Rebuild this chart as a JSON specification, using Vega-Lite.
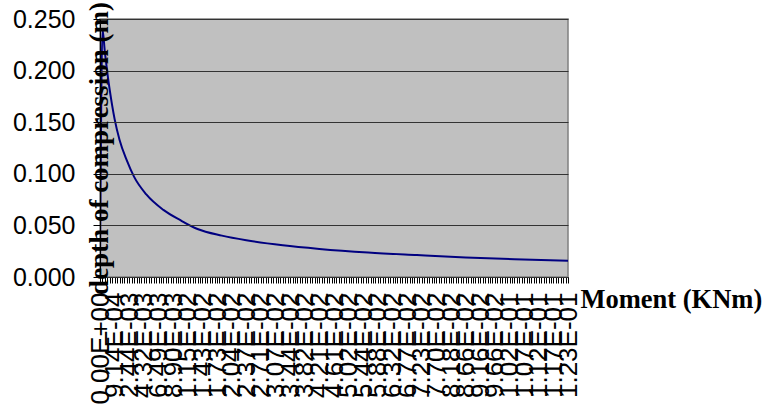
{
  "$schema": "https://vega.github.io/schema/vega-lite/v6.json",
  "width": 468,
  "height": 258,
  "autosize": {"type": "none"},
  "padding": {"left": 100, "top": 19, "right": 197, "bottom": 131},
  "background": "white",
  "config": {
    "view": {"fill": "#C0C0C0", "stroke": "#808080", "strokeWidth": 1.5}
  },
  "data": {
    "values": [
      {"cat": 0, "depth": 0},
      {"cat": 1, "depth": 0.240},
      {"cat": 2, "depth": 0.218},
      {"cat": 3, "depth": 0.198},
      {"cat": 4, "depth": 0.181},
      {"cat": 5, "depth": 0.166},
      {"cat": 6, "depth": 0.153},
      {"cat": 8, "depth": 0.133},
      {"cat": 11, "depth": 0.113},
      {"cat": 14, "depth": 0.097},
      {"cat": 19, "depth": 0.080},
      {"cat": 26, "depth": 0.065},
      {"cat": 33, "depth": 0.055},
      {"cat": 40, "depth": 0.0465},
      {"cat": 50, "depth": 0.0401},
      {"cat": 60, "depth": 0.0356},
      {"cat": 75, "depth": 0.0307},
      {"cat": 90, "depth": 0.0272},
      {"cat": 110, "depth": 0.0237},
      {"cat": 130, "depth": 0.0212},
      {"cat": 150, "depth": 0.0189},
      {"cat": 170, "depth": 0.0172},
      {"cat": 192, "depth": 0.0157}
    ]
  },
  "mark": {"type": "line", "color": "#000080", "strokeWidth": 2, "interpolate": "monotone", "clip": true},
  "encoding": {
    "x": {
      "field": "cat",
      "type": "quantitative",
      "scale": {"domain": [0, 192], "nice": false, "zero": false},
      "axis": {
        "values": [0,1,2,3,4,5,6,7,8,9,10,11,12,13,14,15,16,17,18,19,20,21,22,23,24,25,26,27,28,29,30,31,32,33,34,35,36,37,38,39,40,41,42,43,44,45,46,47,48,49,50,51,52,53,54,55,56,57,58,59,60,61,62,63,64,65,66,67,68,69,70,71,72,73,74,75,76,77,78,79,80,81,82,83,84,85,86,87,88,89,90,91,92,93,94,95,96,97,98,99,100,101,102,103,104,105,106,107,108,109,110,111,112,113,114,115,116,117,118,119,120,121,122,123,124,125,126,127,128,129,130,131,132,133,134,135,136,137,138,139,140,141,142,143,144,145,146,147,148,149,150,151,152,153,154,155,156,157,158,159,160,161,162,163,164,165,166,167,168,169,170,171,172,173,174,175,176,177,178,179,180,181,182,183,184,185,186,187,188,189,190,191,192],
        "labelExpr": "datum.value % 6 === 0 ? ['0.00E+00','9.14E-04','2.44E-03','4.32E-03','6.49E-03','8.90E-03','1.15E-02','1.43E-02','1.73E-02','2.04E-02','2.37E-02','2.71E-02','3.07E-02','3.44E-02','3.82E-02','4.21E-02','4.61E-02','5.02E-02','5.44E-02','5.88E-02','6.32E-02','6.77E-02','7.23E-02','7.70E-02','8.18E-02','8.66E-02','9.16E-02','9.66E-02','1.02E-01','1.07E-01','1.12E-01','1.17E-01','1.23E-01'][datum.value / 6] : ''",
        "labelAngle": 270,
        "labelAlign": "right",
        "labelBaseline": "middle",
        "labelFont": "Liberation Sans",
        "labelFontSize": 26,
        "labelColor": "#000000",
        "labelPadding": 9,
        "labelOverlap": false,
        "labelFlush": false,
        "labelBound": false,
        "tickSize": 6,
        "tickColor": "#000000",
        "tickWidth": 1,
        "domainColor": "#000000",
        "grid": false,
        "title": "Moment (KNm)",
        "titleFont": "Liberation Serif",
        "titleFontWeight": "bold",
        "titleFontSize": 26.5,
        "titleColor": "#000000",
        "titleX": 480,
        "titleY": 30,
        "titleAlign": "left",
        "titleBaseline": "alphabetic",
        "titleAngle": 0
      }
    },
    "y": {
      "field": "depth",
      "type": "quantitative",
      "scale": {"domain": [0, 0.25], "nice": false},
      "axis": {
        "values": [0, 0.05, 0.1, 0.15, 0.2, 0.25],
        "format": ".3f",
        "labelFont": "Liberation Sans",
        "labelFontSize": 25,
        "labelColor": "#000000",
        "labelPadding": 18,
        "labelBaseline": "middle",
        "tickSize": 7,
        "tickColor": "#000000",
        "domainColor": "#000000",
        "grid": true,
        "gridColor": "#333333",
        "gridWidth": 1,
        "zindex": 1,
        "title": "depth of compression (m)",
        "titleFont": "Liberation Serif",
        "titleFontWeight": "bold",
        "titleFontSize": 27,
        "titleColor": "#000000",
        "titleX": 7,
        "titleY": 129,
        "titleAngle": 270,
        "titleAlign": "center",
        "titleBaseline": "alphabetic"
      }
    }
  }
}
